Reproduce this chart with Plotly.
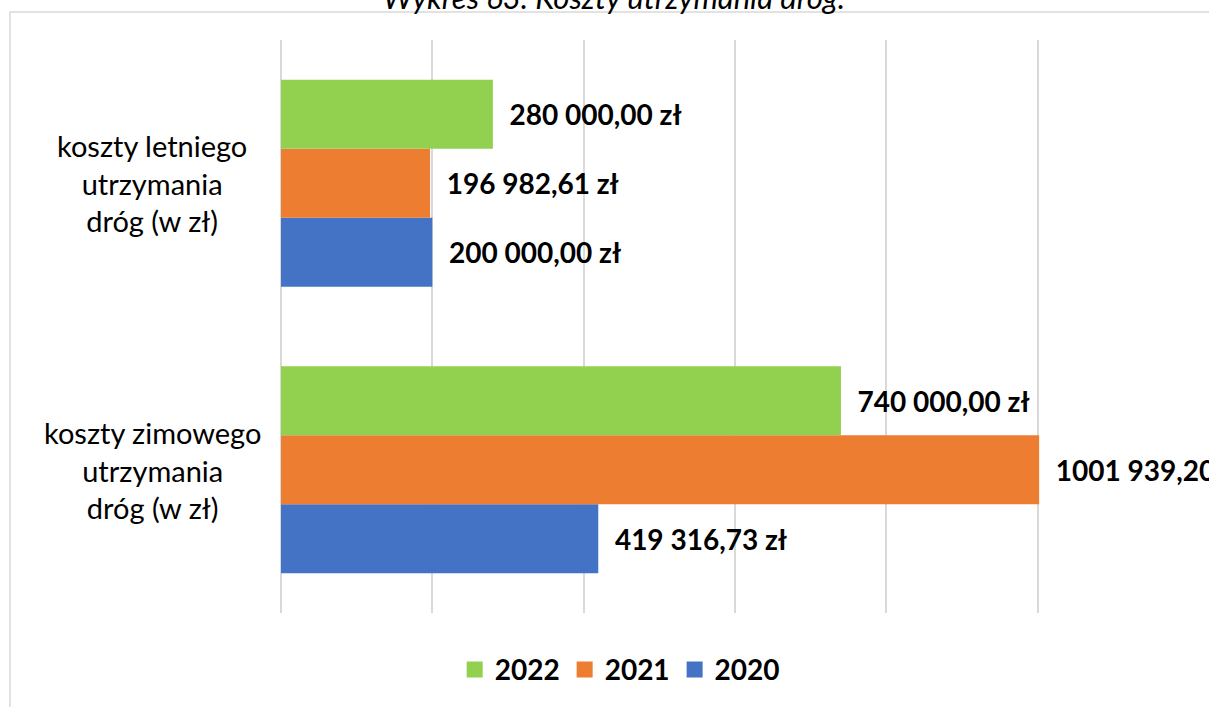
import plotly.graph_objects as go

# dane
categories = ["koszty zimowego utrzymania dróg (w zł)", "koszty letniego utrzymania dróg (w zł)"]
cat_labels = ["koszty zimowego<br>utrzymania<br>dróg (w zł)", "koszty letniego<br>utrzymania<br>dróg (w zł)"]
years = ["2020", "2021", "2022"]
v2020 = [419316.73, 200000.00]
v2021 = [1001939.20, 196982.61]
v2022 = [740000.00, 280000.00]
colors = {"2020": "#4472C4", "2021": "#ED7D31", "2022": "#92D050"}

FONT = "Lato"
GRID = "#d9d9d9"


def zl(v):
    # format jak w Excelu: "196 982,61 zł" / "1001 939,20 zł"
    s = f"{v:.2f}"
    whole, dec = s.split(".")
    if len(whole) > 3:
        whole = whole[:-3] + " " + whole[-3:]
    return whole + "," + dec + " zł"


fig = go.Figure()
for name, vals in zip(years, [v2020, v2021, v2022]):
    fig.add_trace(go.Bar(
        y=categories, x=vals, name=name, orientation="h", showlegend=False,
        marker=dict(color=colors[name], line=dict(width=0)),
        text=["\u00a0\u00a0" + zl(v) for v in vals],
        textposition="outside", cliponaxis=False,
        textfont=dict(family=FONT, size=28, color="black", weight="bold"),
    ))
    # legenda z większymi kwadratami jak w Excelu
    fig.add_trace(go.Scatter(
        x=[None], y=[None], mode="markers", name=name,
        marker=dict(symbol="square", size=18, color=colors[name]),
    ))

fig.update_layout(
    width=1209, height=707,
    margin=dict(l=281, r=20, t=40, b=92),
    paper_bgcolor="white", plot_bgcolor="white",
    barmode="group", bargap=0.277, bargroupgap=0,
    font=dict(family=FONT, color="black"),
    xaxis=dict(range=[0, 1200000], dtick=200000, showticklabels=False,
               showgrid=True, gridcolor=GRID, gridwidth=2,
               zeroline=True, zerolinecolor=GRID, zerolinewidth=2,
               showline=False, ticks=""),
    yaxis=dict(categoryorder="array", categoryarray=categories,
               showticklabels=False, showgrid=False, showline=False, ticks=""),
    showlegend=True,
    legend=dict(orientation="h", traceorder="reversed", itemsizing="trace",
                x=0.373, xanchor="center", y=-0.099, yanchor="middle",
                font=dict(family=FONT, size=28, color="black", weight="bold")),
)

for cat, lab in zip(categories, cat_labels):
    fig.add_annotation(x=-0.142, xref="paper", y=cat, yref="y",
                       text=lab, showarrow=False, align="center",
                       xanchor="center", yanchor="middle",
                       font=dict(family=FONT, size=29, color="black"))

# tytuł (ucięty u góry) i ramka obszaru wykresu
fig.add_annotation(x=0.367, xref="paper", y=1.0748, yref="paper",
                   text="<i>Wykres 63. Koszty utrzymania dróg.</i>", showarrow=False,
                   xanchor="center", yanchor="middle",
                   font=dict(family=FONT, size=31, color="black"))
fig.add_shape(type="rect", xref="paper", yref="paper",
              x0=-0.2985, x1=1.2, y0=-0.25, y1=1.0487,
              line=dict(color=GRID, width=1.5), fillcolor="rgba(0,0,0,0)", layer="below")

fig.write_html("out.html", config={"displayModeBar": False},
               post_script="document.body.style.margin='0';")
